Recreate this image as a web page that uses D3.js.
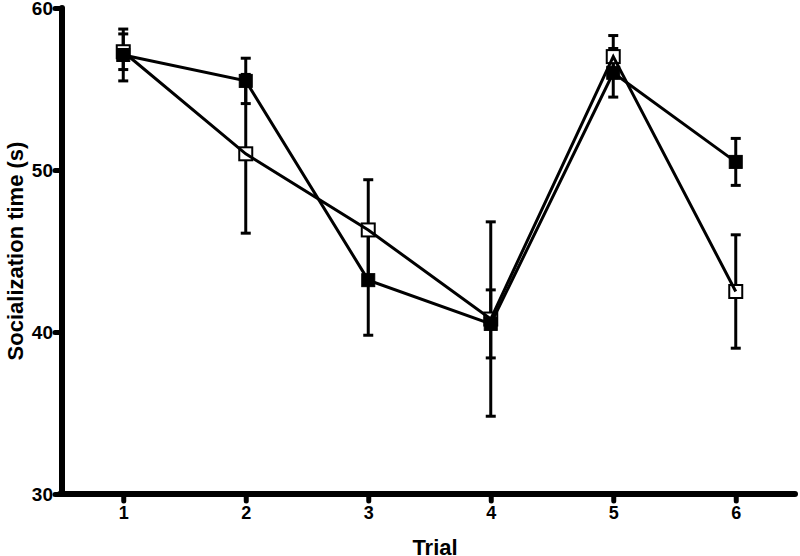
<!DOCTYPE html>
<html><head><meta charset="utf-8">
<script src="https://cdn.jsdelivr.net/npm/d3@7"></script>
<style>body{margin:0;background:#fff}svg{display:block}text{font-family:"Liberation Sans",Arial,sans-serif;font-weight:bold}</style>
</head><body><svg id="c" width="800" height="556"></svg>
<script>
const trials = [1, 2, 3, 4, 5, 6];
const yTicks = [30, 40, 50, 60];
const filledMean = [57.1, 55.5, 43.2, 40.5, 56.0, 50.5];
const filledErr  = [1.6, 1.4, 3.4, 2.1, 1.5, 1.45];
const openMean   = [57.3, 51.0, 46.3, 40.8, 57.0, 42.5];
const openErr    = [1.1, 4.9, 3.1, 6.0, 1.3, 3.5];

const svg = d3.select("#c");
const x = d3.scaleLinear().domain([0.5, 6.5]).range([62, 797]);
const y = d3.scaleLinear().domain([30, 60]).range([494, 8]);

// axes
const yAxis = d3.axisLeft(y).tickValues(yTicks).tickSize(7).tickPadding(2);
const gy = svg.append("g").attr("transform", "translate(62,0)").call(yAxis);
gy.select(".domain").remove();
gy.selectAll(".tick line").attr("stroke", "#000").attr("stroke-width", 5).attr("stroke-linecap", "round");
gy.selectAll(".tick text").attr("font-size", 19).attr("fill", "#000").attr("dy", "0.35em");
svg.append("line").attr("x1", 62).attr("x2", 62).attr("y1", y(60)).attr("y2", y(30))
  .attr("stroke", "#000").attr("stroke-width", 6).attr("stroke-linecap", "round");

const xAxis = d3.axisBottom(x).tickValues(trials).tickFormat(d3.format("d")).tickSize(7).tickPadding(5);
const gx = svg.append("g").attr("transform", "translate(0,494)").call(xAxis);
gx.select(".domain").remove();
gx.selectAll(".tick line").attr("stroke", "#000").attr("stroke-width", 5).attr("stroke-linecap", "round");
gx.selectAll(".tick text").attr("font-size", 18).attr("fill", "#000");
svg.append("line").attr("x1", 60).attr("x2", 795).attr("y1", 494).attr("y2", 494)
  .attr("stroke", "#000").attr("stroke-width", 6).attr("stroke-linecap", "round");

svg.append("text").attr("x", 435).attr("y", 555).attr("text-anchor", "middle").attr("font-size", 22).text("Trial");
svg.append("text").attr("transform", "translate(23,251) rotate(-90)").attr("text-anchor", "middle")
  .attr("font-size", 22).text("Socialization time (s)");

const series = [
  {mean: openMean, err: openErr, filled: false},
  {mean: filledMean, err: filledErr, filled: true}
];

// error bars
series.forEach(s => {
  const g = svg.append("g");
  trials.forEach((t, i) => {
    const cx = x(t), top = y(s.mean[i] + s.err[i]), bot = y(s.mean[i] - s.err[i]);
    g.append("line").attr("x1", cx).attr("x2", cx).attr("y1", top).attr("y2", bot).attr("stroke", "#000").attr("stroke-width", 3);
    [top, bot].forEach(yy => g.append("line").attr("x1", cx - 5).attr("x2", cx + 5).attr("y1", yy).attr("y2", yy)
      .attr("stroke", "#000").attr("stroke-width", 3));
  });
});

// markers
const ms = 13;
series.forEach(s => {
  svg.append("g").selectAll("rect").data(trials).join("rect")
    .attr("x", (d) => x(d) - ms / 2).attr("y", (d, i) => y(s.mean[i]) - ms / 2)
    .attr("width", ms).attr("height", ms)
    .attr("fill", s.filled ? "#000" : "#fff").attr("stroke", "#000").attr("stroke-width", s.filled ? 1 : 2);
});

// lines on top
const line = d3.line().x((d) => x(d[0])).y((d) => y(d[1]));
series.forEach(s => {
  svg.append("path").datum(trials.map((t, i) => [t, s.mean[i]])).attr("d", line)
    .attr("fill", "none").attr("stroke", "#000").attr("stroke-width", 3).attr("stroke-linejoin", "miter");
});
</script></body></html>
